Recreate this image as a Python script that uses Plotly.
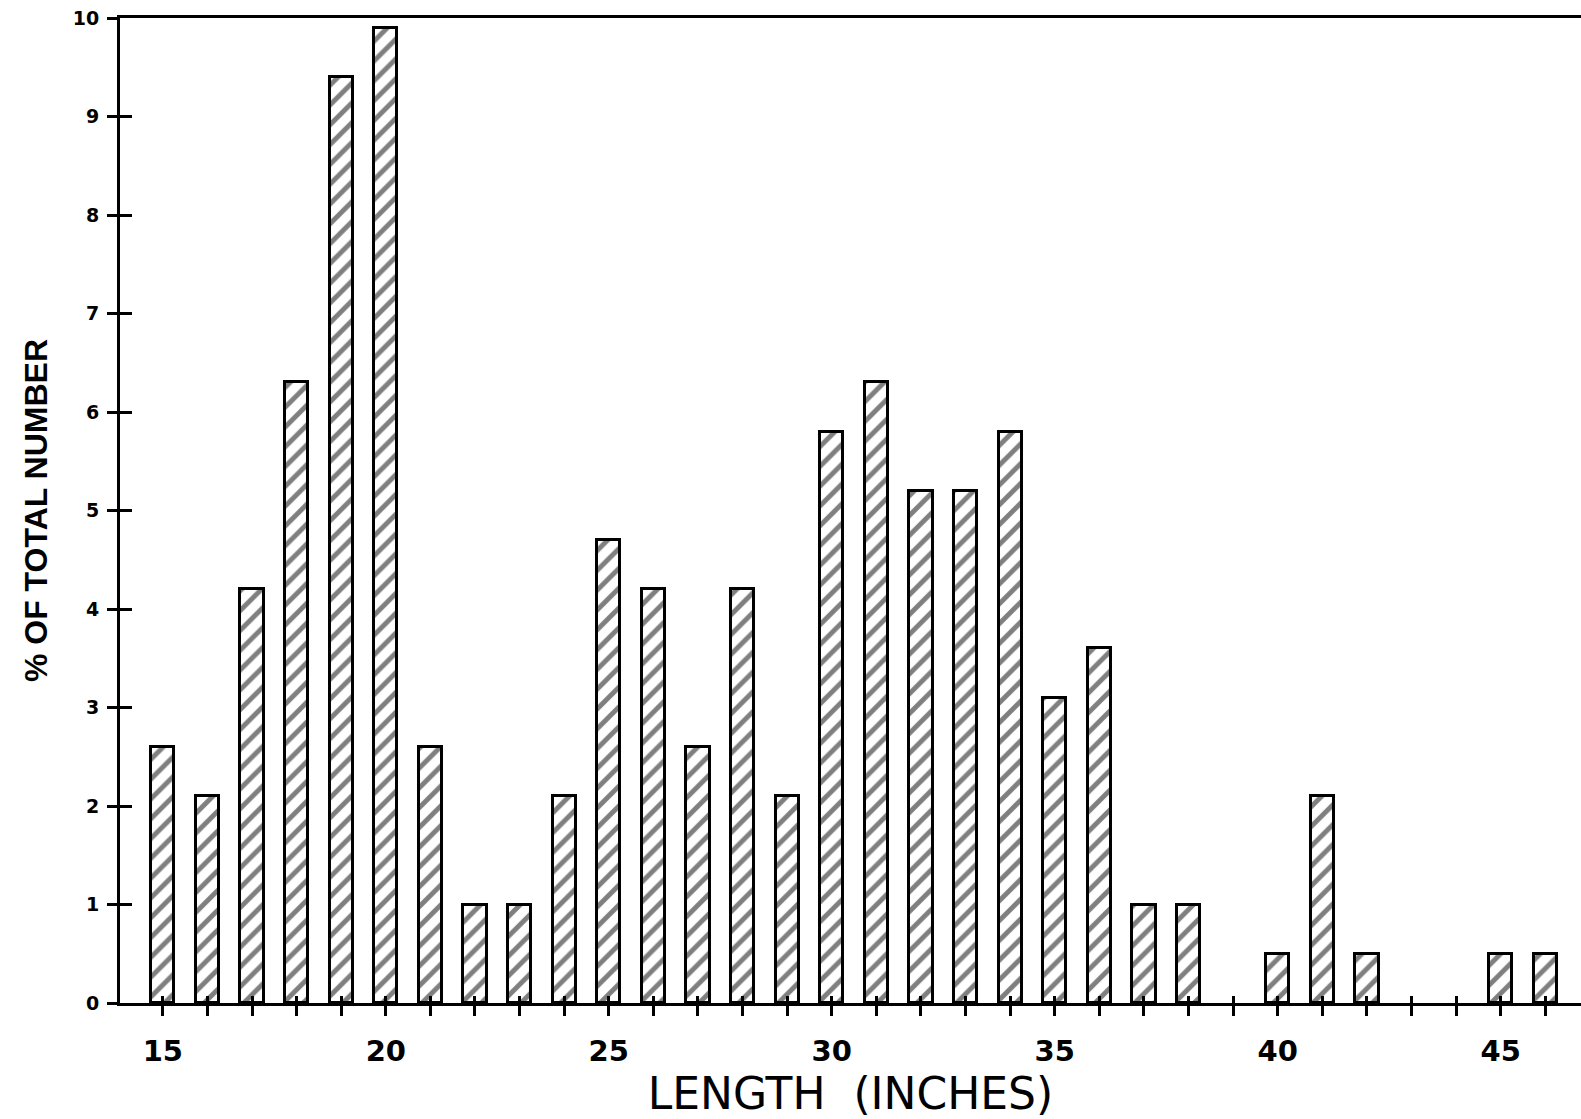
import plotly.graph_objects as go

lengths = [15, 16, 17, 18, 19, 20, 21, 22, 23, 24, 25, 26, 27, 28, 29, 30,
           31, 32, 33, 34, 35, 36, 37, 38, 40, 41, 42, 45, 46]
percent = [2.6, 2.1, 4.2, 6.3, 9.4, 9.9, 2.6, 1.0, 1.0, 2.1, 4.7, 4.2, 2.6, 4.2, 2.1, 5.8,
           6.3, 5.2, 5.2, 5.8, 3.1, 3.6, 1.0, 1.0, 0.5, 2.1, 0.5, 0.5, 0.5]
x_ticks = list(range(15, 47))
x_labels = [str(v) if v % 5 == 0 else "" for v in x_ticks]
y_ticks = list(range(0, 11))

XR = [14.04, 46.8]
YR = [0, 10]

fig = go.Figure()
fig.add_trace(go.Bar(
    x=lengths, y=percent, width=0.52,
    marker=dict(color="white",
                line=dict(color="black", width=3),
                pattern=dict(shape="/", fgcolor="black", bgcolor="white",
                             size=14, solidity=0.35)),
    showlegend=False, hoverinfo="x+y"))
# invisible trace on overlay axes so inner ticks are drawn
fig.add_trace(go.Scatter(x=[XR[0]], y=[YR[0]], xaxis="x2", yaxis="y2",
                         mode="markers", marker=dict(opacity=0), showlegend=False,
                         hoverinfo="skip"))

fig.update_layout(
    width=1581, height=1119,
    margin=dict(l=120, r=0, t=18, b=116),
    paper_bgcolor="white", plot_bgcolor="white",
    bargap=0,
    xaxis=dict(range=XR, tickmode="array", tickvals=x_ticks, ticktext=x_labels,
               ticks="outside", ticklen=10, tickwidth=3, tickcolor="black",
               showline=True, linewidth=3, linecolor="black", mirror=True,
               showgrid=False, zeroline=False,
               ticklabelstandoff=10,
               tickfont=dict(family="DejaVu Sans", size=29, color="black", weight="bold"),
               title=dict(text="LENGTH\u00a0\u00a0(INCHES)", standoff=0,
                          font=dict(family="DejaVu Sans", size=44, color="black"))),
    yaxis=dict(range=YR, tickmode="array", tickvals=y_ticks,
               ticks="outside", ticklen=10, tickwidth=3, tickcolor="black",
               showline=True, linewidth=3, linecolor="black",
               showgrid=False, zeroline=False,
               ticklabelstandoff=4,
               tickfont=dict(family="DejaVu Sans", size=19, color="black", weight="bold"),
               title=dict(text="% OF TOTAL NUMBER", standoff=16,
                          font=dict(family="Liberation Sans", size=32, color="black",
                                    weight="bold"))),
    xaxis2=dict(range=XR, overlaying="x", anchor="y2", tickmode="array", tickvals=x_ticks,
                ticks="inside", ticklen=7, tickwidth=3, tickcolor="black",
                showticklabels=False, showgrid=False, zeroline=False, showline=False,
                side="bottom"),
    yaxis2=dict(range=YR, overlaying="y", anchor="x2", tickmode="array", tickvals=y_ticks,
                ticks="inside", ticklen=12, tickwidth=3, tickcolor="black",
                showticklabels=False, showgrid=False, zeroline=False, showline=False,
                side="left"),
)

fig.write_html("out.html")
